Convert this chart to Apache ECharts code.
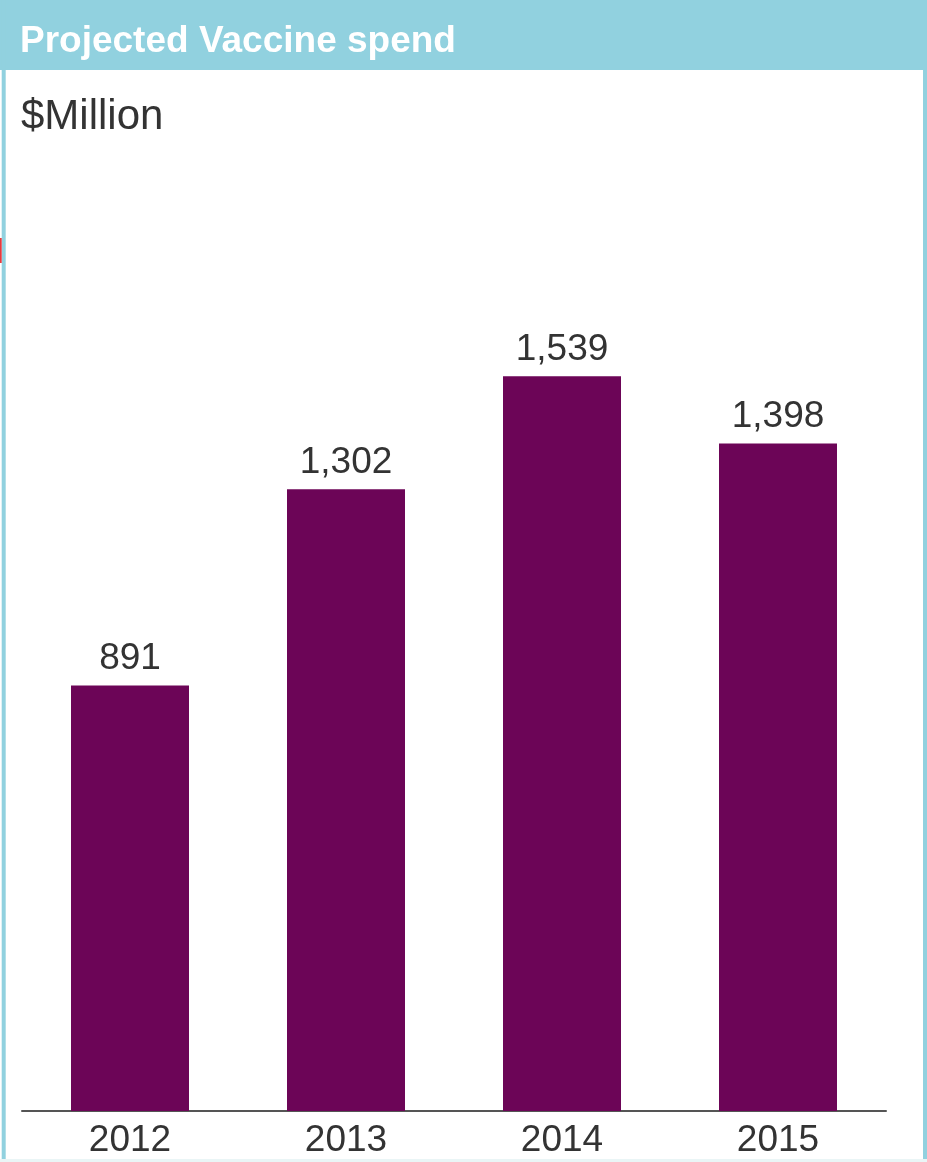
<!DOCTYPE html>
<html>
<head>
<meta charset="utf-8">
<script src="https://cdn.jsdelivr.net/npm/echarts@6/dist/echarts.min.js"></script>
<style>
html,body{margin:0;padding:0;background:#fff;}
#chart{width:927px;height:1162px;}
</style>
</head>
<body>
<div id="chart"></div>
<script>
const categories = ['2012', '2013', '2014', '2015'];
const spend = [891, 1302, 1539, 1398];
const titleText = 'Projected Vaccine spend';
const unitText = '$Million';

const chart = echarts.init(document.getElementById('chart'), null, {renderer: 'canvas'});
const FONT = '"Liberation Sans", Arial, sans-serif';
chart.setOption({
  animation: false,
  backgroundColor: '#ffffff',
  graphic: [
    {type: 'rect', shape: {x: 0, y: 0, width: 927, height: 70}, style: {fill: '#91d1df'}, z: 0},
    {type: 'rect', shape: {x: 1.7, y: 0, width: 4, height: 1162}, style: {fill: '#91d1df'}, z: 0},
    {type: 'rect', shape: {x: 923, y: 0, width: 4, height: 1162}, style: {fill: '#91d1df'}, z: 0},
    {type: 'rect', shape: {x: 0, y: 1159, width: 927, height: 3}, style: {fill: '#eaf5f6'}, z: 0},
    {type: 'rect', shape: {x: 0, y: 238, width: 1.7, height: 25}, style: {fill: '#e8393e'}, z: 1}
  ],
  title: [
    {text: titleText, left: 15, top: 16,
      textStyle: {color: '#ffffff', fontFamily: FONT, fontWeight: 'bold', fontSize: 37, lineHeight: 42}},
    {text: unitText, left: 16, top: 89,
      textStyle: {color: '#333333', fontFamily: FONT, fontWeight: 'normal', fontSize: 42, lineHeight: 46}}
  ],
  grid: {left: 22, right: 41, top: 156, bottom: 51, containLabel: false},
  xAxis: {
    type: 'category',
    data: categories,
    axisLine: {show: true, lineStyle: {color: '#555555', width: 2}},
    axisTick: {show: false},
    axisLabel: {color: '#333333', fontFamily: FONT, fontSize: 37, margin: 11}
  },
  yAxis: {
    type: 'value', min: 0, max: 2000,
    show: false,
    splitLine: {show: false}
  },
  series: [{
    type: 'bar',
    data: spend,
    barWidth: 118,
    itemStyle: {color: '#6c0557'},
    label: {
      show: true, position: 'top', distance: 8,
      color: '#333333', fontFamily: FONT, fontSize: 37,
      formatter: p => p.value.toLocaleString('en-US')
    }
  }]
});
</script>
</body>
</html>
